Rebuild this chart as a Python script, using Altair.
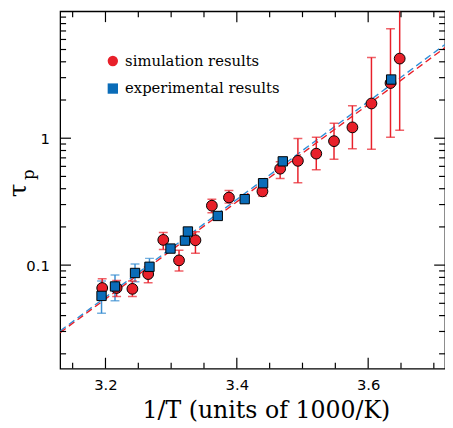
import altair as alt
import pandas as pd

# ---------------- data ----------------
sim_x = [3.195, 3.217, 3.241, 3.265, 3.288, 3.312, 3.337, 3.362, 3.388,
         3.439, 3.466, 3.493, 3.521, 3.548, 3.576, 3.605, 3.634, 3.648]
sim_y = [0.066, 0.066, 0.065, 0.085, 0.158, 0.109, 0.157, 0.294, 0.341,
         0.381, 0.575, 0.663, 0.756, 0.948, 1.217, 1.877, 2.72, 4.24]
sim_lo = [0.0555, 0.0565, 0.0565, 0.0725, 0.133, 0.090, 0.124, 0.259, 0.308,
          0.35, 0.481, 0.446, 0.565, 0.684, 0.826, 0.817, 1.018, 1.153]
sim_hi = [0.078, 0.0756, 0.075, 0.0965, 0.181, 0.131, 0.183, 0.331, 0.388,
          0.415, 0.652, 0.995, 1.018, 1.314, 1.80, 4.32, 7.29, 14.0]

exp_x = [3.194, 3.2145, 3.245, 3.267, 3.299, 3.321, 3.3255, 3.371, 3.412,
         3.440, 3.470, 3.635]
exp_y = [0.0572, 0.0679, 0.0867, 0.097, 0.135, 0.156, 0.184, 0.244, 0.331,
         0.442, 0.657, 2.90]
exp_lo = [0.0417, 0.0523, 0.0738, 0.084, 0.126, 0.145, 0.171, 0.228, 0.31,
          0.415, 0.62, 2.75]
exp_hi = [0.075, 0.0836, 0.102, 0.113, 0.144, 0.168, 0.197, 0.262, 0.353,
          0.47, 0.695, 3.05]

fit_x = [3.131, 3.717]
fit_sim_y = [0.0294, 5.17]
fit_exp_y = [0.0303, 5.48]

series_names = ["simulation results", "experimental results"]

x_major = [3.2, 3.4, 3.6]
x_minor = [3.15, 3.25, 3.3, 3.35, 3.45, 3.5, 3.55, 3.65, 3.7]
y_major = [0.1, 1]
y_minor = [0.02, 0.03, 0.04, 0.05, 0.06, 0.07, 0.08, 0.09,
           0.2, 0.3, 0.4, 0.5, 0.6, 0.7, 0.8, 0.9,
           2, 3, 4, 5, 6, 7, 8, 9]

x_domain = [3.131, 3.717]
y_domain = [0.0153, 10]

RED = "#e8202a"
BLUE = "#0a6cb8"
BLUE_ERR = "#3a8fd2"
BLUE_LINE = "#2f8fd8"

W, H = 391, 363

# ---------------- tables ----------------
sim = pd.DataFrame({"x": sim_x, "y": sim_y, "lo": sim_lo, "hi": sim_hi,
                    "series": series_names[0]})
exp = pd.DataFrame({"x": exp_x, "y": exp_y, "lo": exp_lo, "hi": exp_hi,
                    "series": series_names[1]})
fit_sim = pd.DataFrame({"x": fit_x, "y": fit_sim_y})
fit_exp = pd.DataFrame({"x": fit_x, "y": fit_exp_y})

xs = alt.Scale(domain=x_domain, nice=False, zero=False)
ys = alt.Scale(type="log", domain=y_domain, nice=False)

fill_scale = alt.Scale(domain=series_names, range=[RED, BLUE])
shape_scale = alt.Scale(domain=series_names, range=["circle", "square"])

X = alt.X("x:Q", scale=xs,
          axis=alt.Axis(values=x_major, format=".1f", ticks=False, domain=False,
                        grid=False, labelFont="DejaVu Sans", labelFontSize=15,
                        labelColor="black", labelPadding=9,
                        title="1/T (units of 1000/K)", titleFont="DejaVu Serif",
                        titleFontSize=24, titleFontWeight="normal",
                        titleColor="black", titleBaseline="alphabetic",
                        titleX=209, titleY=50, titleAnchor="middle"))
Y = alt.Y("y:Q", scale=ys,
          axis=alt.Axis(values=y_major, format="~g", ticks=False, domain=False,
                        grid=False, labelFont="DejaVu Sans", labelFontSize=15,
                        labelColor="black", labelPadding=11, title=None))

# fit lines
line_exp = alt.Chart(fit_exp).mark_line(color=BLUE_LINE, strokeWidth=1.4,
                                        strokeDash=[7, 4], clip=True).encode(x=X, y=Y)
line_sim = alt.Chart(fit_sim).mark_line(color=RED, strokeWidth=1.4,
                                        strokeDash=[7, 4], clip=True).encode(x=X, y=Y)

def errbars(df, color):
    r = alt.Chart(df).mark_rule(color=color, strokeWidth=1.5, clip=True).encode(
        x="x:Q", y="lo:Q", y2="hi:Q")
    t1 = alt.Chart(df).mark_tick(color=color, thickness=1.5, size=9,
                                 orient="horizontal", clip=True).encode(x="x:Q", y="lo:Q")
    t2 = alt.Chart(df).mark_tick(color=color, thickness=1.5, size=9,
                                 orient="horizontal", clip=True).encode(x="x:Q", y="hi:Q")
    return r + t1 + t2

err_sim = errbars(sim, RED)
err_exp = errbars(exp, BLUE_ERR)

legend = alt.Legend(title=None, orient="none", legendX=46, legendY=43,
                    labelFont="DejaVu Serif", labelFontSize=15, labelColor="black",
                    symbolStrokeColor="black", symbolStrokeWidth=1,
                    symbolSize=110, rowPadding=12, padding=0, labelOffset=5)

pts_sim = alt.Chart(sim).mark_point(filled=True, size=120, stroke="black",
                                    strokeWidth=1, opacity=1).encode(
    x=X, y=Y,
    fill=alt.Fill("series:N", scale=fill_scale, legend=legend),
    shape=alt.Shape("series:N", scale=shape_scale, legend=legend))
pts_exp = alt.Chart(exp).mark_point(filled=True, size=90, stroke="black",
                                    strokeWidth=1, opacity=1).encode(
    x=X, y=Y,
    fill=alt.Fill("series:N", scale=fill_scale, legend=legend),
    shape=alt.Shape("series:N", scale=shape_scale, legend=legend))

# inward frame ticks
def xticks(vals, length):
    d = pd.DataFrame({"v": vals})
    b = alt.Chart(d).mark_rule(color="black", strokeWidth=1.2).encode(
        x="v:Q", y=alt.value(H), y2=alt.value(H - length))
    t = alt.Chart(d).mark_rule(color="black", strokeWidth=1.2).encode(
        x="v:Q", y=alt.value(0), y2=alt.value(length))
    return b + t

def yticks(vals, length):
    d = pd.DataFrame({"v": vals})
    l = alt.Chart(d).mark_rule(color="black", strokeWidth=1.2).encode(
        y="v:Q", x=alt.value(0), x2=alt.value(length))
    r = alt.Chart(d).mark_rule(color="black", strokeWidth=1.2).encode(
        y="v:Q", x=alt.value(W), x2=alt.value(W - length))
    return l + r

ticks = xticks(x_major, 11) + xticks(x_minor, 6) + yticks(y_major, 11) + yticks(y_minor, 6)

# y-axis title  (tau with subscript p)
tau = alt.Chart(pd.DataFrame({"t": ["τ"]})).mark_text(
    font="DejaVu Serif", fontSize=25, angle=270, align="center",
    baseline="alphabetic", color="black").encode(
    text="t:N", x=alt.value(-35), y=alt.value(182))
sub = alt.Chart(pd.DataFrame({"t": ["p"]})).mark_text(
    font="DejaVu Serif", fontSize=17, angle=270, align="center",
    baseline="alphabetic", color="black").encode(
    text="t:N", x=alt.value(-27), y=alt.value(166))

chart = alt.layer(
    line_exp, line_sim, err_exp, err_sim, pts_sim, pts_exp, ticks, tau, sub
).resolve_scale(x="shared", y="shared").properties(
    width=W, height=H,
    autosize=alt.AutoSizeParams(type="none"),
    padding={"left": 53, "top": 0, "right": 0, "bottom": 56},
).configure_view(stroke="black", strokeWidth=1.3).configure_axis(
    grid=False)

chart.save("out.html", embed_options={"renderer": "svg", "actions": False})
